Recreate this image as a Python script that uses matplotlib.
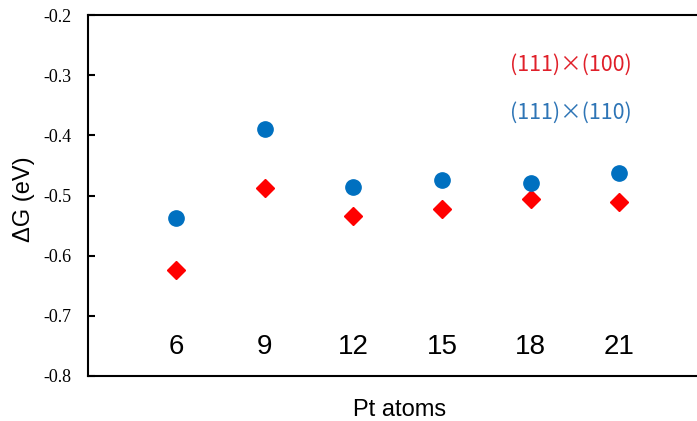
import matplotlib
matplotlib.use("Agg")
import matplotlib.pyplot as plt

pt_atoms = ["6", "9", "12", "15", "18", "21"]
dg_111x100 = [-0.624, -0.487, -0.534, -0.522, -0.506, -0.511]
dg_111x110 = [-0.537, -0.389, -0.486, -0.474, -0.479, -0.462]
series_names = ["(111)\u00d7(100)", "(111)\u00d7(110)"]
yticks = [-0.8, -0.7, -0.6, -0.5, -0.4, -0.3, -0.2]

red = "#ff0000"
blue = "#0070c0"

fig = plt.figure(figsize=(6.97, 4.21), dpi=100)
ax = fig.add_axes([0.126, 0.107, 0.874, 0.857])

x = list(range(len(pt_atoms)))
ax.plot(x, dg_111x100, "D", color=red, markersize=9, linestyle="none")
ax.plot(x, dg_111x110, "o", color=blue, markersize=11, linestyle="none")

# category labels sit inside the plot
for i, lab in enumerate(pt_atoms):
    ax.text(i, -0.752, lab, ha="center", va="center", fontsize=20,
            family="Liberation Sans")

ax.text(4.45, -0.283, series_names[0], color="#e0202a", ha="center",
        va="center", fontsize=15.5, family=["Noto Sans CJK JP", "DejaVu Sans"])
ax.text(4.45, -0.362, series_names[1], color="#2e75b6", ha="center",
        va="center", fontsize=15.5, family=["Noto Sans CJK JP", "DejaVu Sans"])

ax.set_xlim(-1, 5.88)
ax.set_ylim(-0.8, -0.2)
ax.set_yticks(yticks)
ax.set_yticklabels([f"{v:.1f}" for v in yticks], family="Liberation Serif",
                   fontsize=13)
ax.set_xticks([])
ax.tick_params(axis="y", direction="in", length=5, width=1.5, pad=12)

for s in ["left", "bottom", "top"]:
    ax.spines[s].set_linewidth(1.5)
ax.spines["right"].set_visible(False)

ax.set_ylabel("\u0394G (eV)", fontsize=17, family="Liberation Sans")
ax.yaxis.set_label_coords(-0.087, 0.49)
ax.set_xlabel("Pt atoms", fontsize=17, family="Liberation Sans")
ax.xaxis.set_label_coords(0.512, -0.063)

fig.savefig("out.png", dpi=100)
